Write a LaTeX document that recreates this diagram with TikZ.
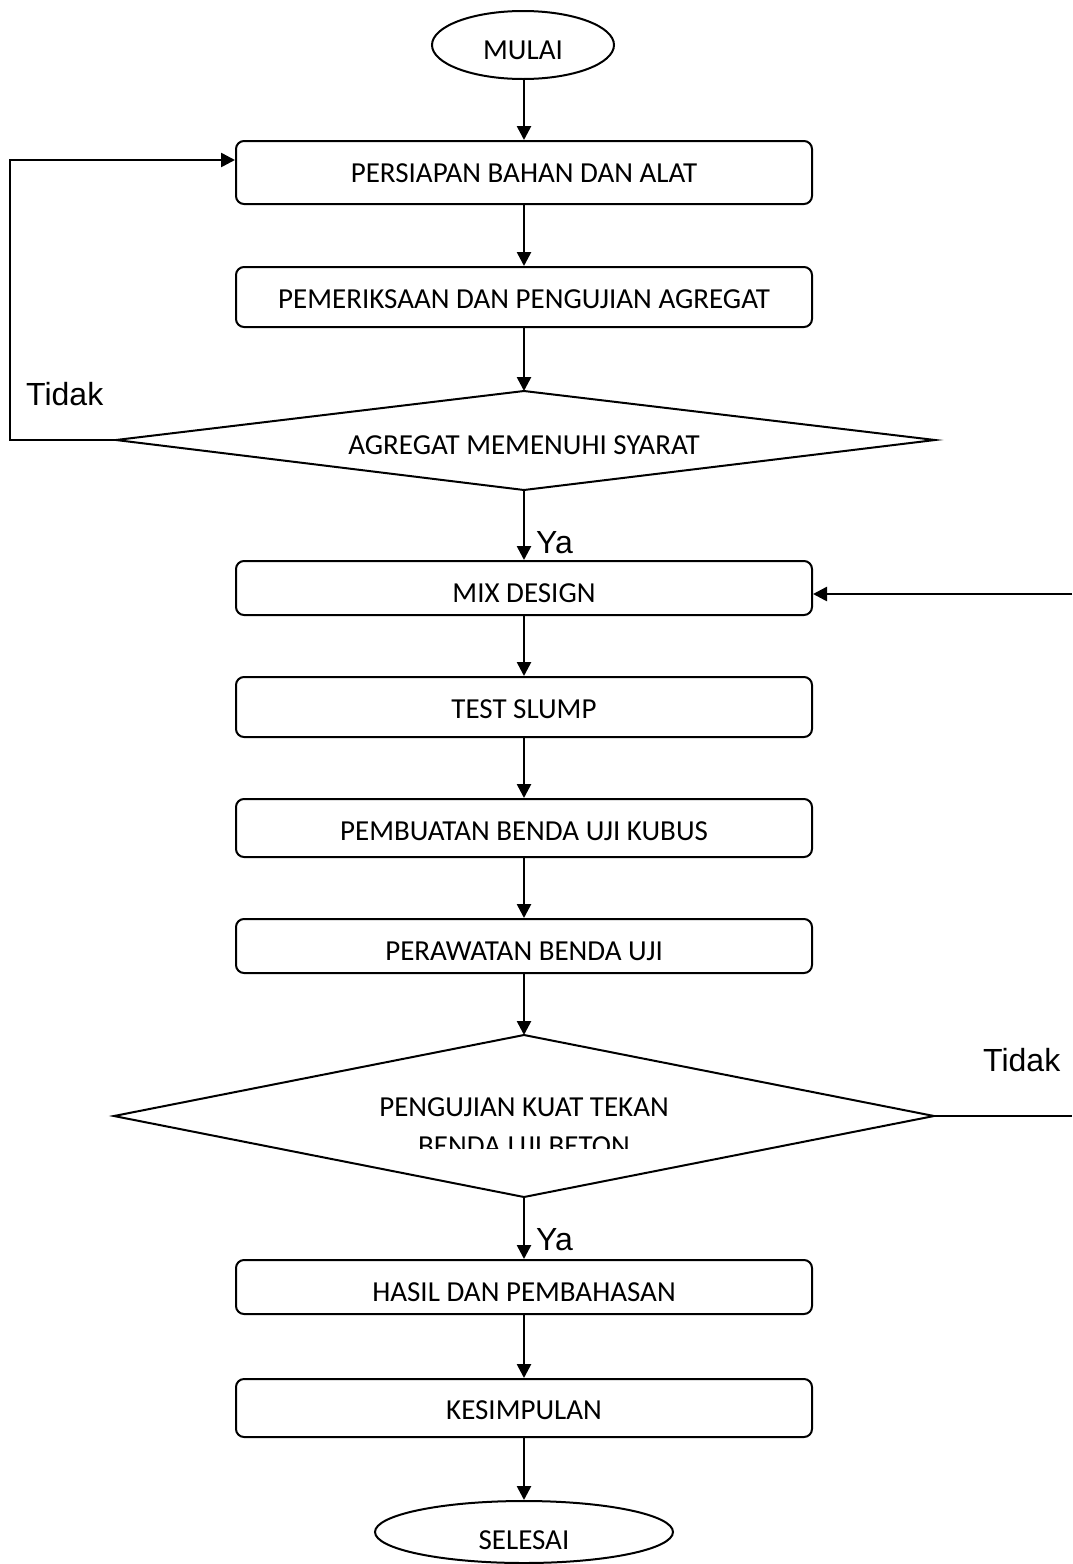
\documentclass[tikz,border=0pt]{standalone}
\usepackage{fontspec}
\setmainfont{Carlito}
\newfontfamily\arialf{Liberation Sans}
\usetikzlibrary{arrows.meta,calc,shapes.geometric}
\begin{document}
\begin{tikzpicture}[x=1pt,y=-1pt,
  box/.style={draw, line width=2pt, rounded corners=8pt, minimum width=576pt, inner sep=0pt},
  txt/.style={font=\fontsize{29}{34}\selectfont, text height=18.7pt, text depth=0pt, inner sep=0pt},
  lbl/.style={font=\arialf\fontsize{32}{38}\selectfont, inner sep=0pt, anchor=base west},
  arr/.style={line width=2.6pt, -{Triangle[length=14pt,width=14pt]}},
  ln/.style={line width=2.6pt},
  dia/.style={line width=2pt, line join=miter},
  term/.style={draw, ellipse, line width=2pt, inner sep=0pt}]
\useasboundingbox (0,0) rectangle (1072,1564);
\fill[white] (0,0) rectangle (1072,1564);

% terminals
\node[term, minimum width=182pt, minimum height=68pt] (mulai) at (523,45) {};
\node[txt] (tmulai) at (523,50) {MULAI};
\node[term, minimum width=298pt, minimum height=62pt] (selesai) at (524,1532) {};
\node[txt] (tselesai) at (524,1540) {SELESAI};

% boxes
\node[box, minimum height=63pt] (b1) at (524,172.5) {};
\node[txt] (t1) at (524,173) {PERSIAPAN BAHAN DAN ALAT};
\node[box, minimum height=60pt] (b2) at (524,297) {};
\node[txt] (t2) at (524,299) {PEMERIKSAAN DAN PENGUJIAN AGREGAT};
\node[box, minimum height=54pt] (mix) at (524,588) {};
\node[txt] (t3) at (524,593) {MIX DESIGN};
\node[box, minimum height=60pt] (slump) at (524,707) {};
\node[txt] (t4) at (524,709) {TEST SLUMP};
\node[box, minimum height=58pt] (pemb) at (524,828) {};
\node[txt] (t5) at (524,831) {PEMBUATAN BENDA UJI KUBUS};
\node[box, minimum height=54pt] (peraw) at (524,946) {};
\node[txt] (t6) at (524,951) {PERAWATAN BENDA UJI};
\node[box, minimum height=54pt] (hasil) at (524,1287) {};
\node[txt] (t7) at (524,1292) {HASIL DAN PEMBAHASAN};
\node[box, minimum height=58pt] (kesim) at (524,1408) {};
\node[txt] (t8) at (524,1410) {KESIMPULAN};

% diamond 1
\coordinate (d1t) at (524,391);
\coordinate (d1r) at (935,440);
\coordinate (d1b) at (524,490);
\coordinate (d1l) at (116,440);
\draw[dia] (d1t) -- (d1r) -- (d1b) -- (d1l) -- cycle;
\node[txt] (td1) at (524,445) {AGREGAT MEMENUHI SYARAT};

% diamond 2
\coordinate (d2t) at (524,1035);
\coordinate (d2r) at (934,1116);
\coordinate (d2b) at (524,1197);
\coordinate (d2l) at (114,1116);
\draw[dia] (d2t) -- (d2r) -- (d2b) -- (d2l) -- cycle;
\node[txt] (td2a) at (524,1107) {PENGUJIAN KUAT TEKAN};
\begin{scope}
  \clip (0,0) rectangle (1072,1148);
  \node[txt] (td2b) at (524,1146.5) {BENDA UJI BETON};
\end{scope}

% connectors
\draw[arr] (mulai.south -| b1.north) -- (b1.north);
\draw[arr] (b1) -- (b2);
\draw[arr] (b2.south) -- (d1t);
\draw[arr] (d1b) -- (mix.north);
\draw[arr] (mix) -- (slump);
\draw[arr] (slump) -- (pemb);
\draw[arr] (pemb) -- (peraw);
\draw[arr] (peraw.south) -- (d2t);
\draw[arr] (d2b) -- (hasil.north);
\draw[arr] (hasil) -- (kesim);
\draw[arr] (kesim.south) -- (kesim.south |- selesai.north);

% loop back (Tidak 1)
\draw[arr] (d1l) -- (10,440) |- ([yshift=12.5pt]b1.west);
% loop in from right (Tidak 2)
\coordinate (rin) at (1072,594);
\coordinate (rout) at (1072,1116);
\draw[arr] (rin) -- ([yshift=-6pt]mix.east);
\draw[ln] (d2r) -- (rout);

% labels
\node[lbl] (tidak1) at (26,405) {Tidak};
\node[lbl] (tidak2) at (983,1071) {Tidak};
\node[lbl] (ya1) at (536,553) {Ya};
\node[lbl] (ya2) at (536,1250) {Ya};
\end{tikzpicture}
\end{document}
